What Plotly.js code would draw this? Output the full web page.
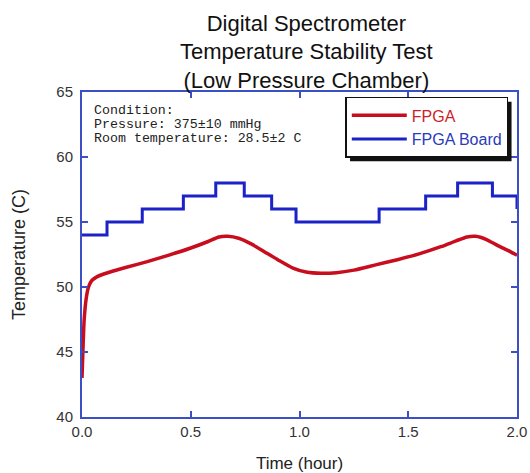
<!DOCTYPE html>
<html>
<head>
<meta charset="utf-8">
<script src="https://cdn.plot.ly/plotly-3.0.1.min.js"></script>
<style>html,body{margin:0;padding:0;background:#fff;}#chart{width:530px;height:473px;}</style>
</head>
<body>
<div id="chart"></div>
<script>
// FPGA temperature (red)
const fpgaTime = [0, 0.005, 0.01, 0.02, 0.03, 0.045, 0.07, 0.1, 0.2, 0.3, 0.4, 0.5, 0.58, 0.63, 0.67, 0.72, 0.78, 0.84, 0.9, 0.97, 1.03, 1.1, 1.17, 1.25, 1.35, 1.45, 1.55, 1.65, 1.72, 1.77, 1.81, 1.86, 1.91, 1.96, 2.0];
const fpgaTemp = [43, 45.5, 47.5, 49.2, 50.0, 50.5, 50.8, 51.0, 51.5, 51.95, 52.45, 53.0, 53.5, 53.85, 53.9, 53.75, 53.3, 52.7, 52.1, 51.45, 51.15, 51.05, 51.1, 51.3, 51.7, 52.1, 52.55, 53.1, 53.55, 53.85, 53.9, 53.65, 53.2, 52.8, 52.45];
// FPGA board temperature (blue, stepwise)
const boardTime = [0, 0.115, 0.277, 0.466, 0.615, 0.746, 0.872, 0.984, 1.366, 1.58, 1.727, 1.887, 2.0];
const boardTemp = [54, 55, 56, 57, 58, 57, 56, 55, 56, 57, 58, 57, 56];
const xTicks = [0, 0.5, 1.0, 1.5, 2.0];
const yTicks = [40, 45, 50, 55, 60, 65];
const conditionLines = ["Condition:", "Pressure: 375±10 mmHg", "Room temperature: 28.5±2 C"];

const axisColor = '#3d4fc4';
const sans = 'Liberation Sans, Arial, sans-serif';
const traces = [
  {x: fpgaTime, y: fpgaTemp, mode: 'lines', name: '<span style="color:#cc1f2a">FPGA</span>',
   line: {color: '#c80d1e', width: 3.5, shape: 'spline', smoothing: 0.6}},
  {x: boardTime, y: boardTemp, mode: 'lines', name: '<span style="color:#2a3bbb">FPGA Board</span>',
   line: {color: '#1a22c8', width: 3, shape: 'hv'}}
];

const annotations = conditionLines.map((t, i) => ({
  text: t, xref: 'paper', yref: 'paper', x: 0.022, y: 0.972 - i * 0.0431,
  xanchor: 'left', yanchor: 'top', showarrow: false, align: 'left',
  font: {family: 'Liberation Mono, DejaVu Sans Mono, monospace', size: 13.3, color: '#222'}
}));

const M = {l: 82, r: 13, t: 92, b: 56};
const layout = {
  width: 530, height: 473,
  margin: M,
  paper_bgcolor: '#fff', plot_bgcolor: '#fff',
  title: {text: 'Digital Spectrometer<br>Temperature Stability Test<br>(Low Pressure Chamber)',
          font: {family: sans, size: 22, color: '#111'},
          x: 0.578, xanchor: 'center', y: 0.935, yanchor: 'top'},
  xaxis: {range: [0, 2], tickvals: xTicks, tickformat: '.1f', ticks: 'inside', ticklen: 6, tickwidth: 2,
          tickcolor: axisColor, showline: true, linecolor: axisColor, linewidth: 2, mirror: 'ticks',
          showgrid: false, zeroline: false,
          tickfont: {family: sans, size: 15, color: '#333'},
          title: {text: 'Time (hour)', font: {family: sans, size: 17, color: '#222'}, standoff: 18}},
  yaxis: {range: [40, 65], tickvals: yTicks, ticks: 'inside', ticklen: 6, tickwidth: 2,
          tickcolor: axisColor, showline: true, linecolor: axisColor, linewidth: 2, mirror: 'ticks',
          showgrid: false, zeroline: false, ticklabelstandoff: 4,
          tickfont: {family: sans, size: 15, color: '#333'},
          title: {text: 'Temperature (C)', font: {family: sans, size: 18, color: '#222'}, standoff: 26}},
  legend: {x: 0.98, xanchor: 'right', y: 0.985, yanchor: 'top', bgcolor: '#fff',
           bordercolor: '#111', borderwidth: 1.5, itemwidth: 55,
           font: {family: sans, size: 16}},
  showlegend: true,
  annotations: annotations
};

Plotly.newPlot('chart', traces, layout, {displayModeBar: false, staticPlot: true}).then(gd => {
  // drop shadow behind the legend box, sized from the drawn legend
  const bg = gd.querySelector('.legend .bg');
  const host = gd.getBoundingClientRect();
  if (!bg) return;
  const r = bg.getBoundingClientRect();
  const pw = 530 - M.l - M.r, ph = 473 - M.t - M.b;
  const off = 4;
  const px = v => (v - host.left - M.l) / pw;
  const py = v => (473 - M.b - (v - host.top)) / ph;
  return Plotly.relayout(gd, {shapes: [{
    type: 'rect', xref: 'paper', yref: 'paper',
    x0: px(r.left + off), x1: px(r.right + off), y0: py(r.bottom + off), y1: py(r.top + off),
    fillcolor: '#111', line: {width: 0}, layer: 'above'}]});
});
</script>
</body>
</html>
